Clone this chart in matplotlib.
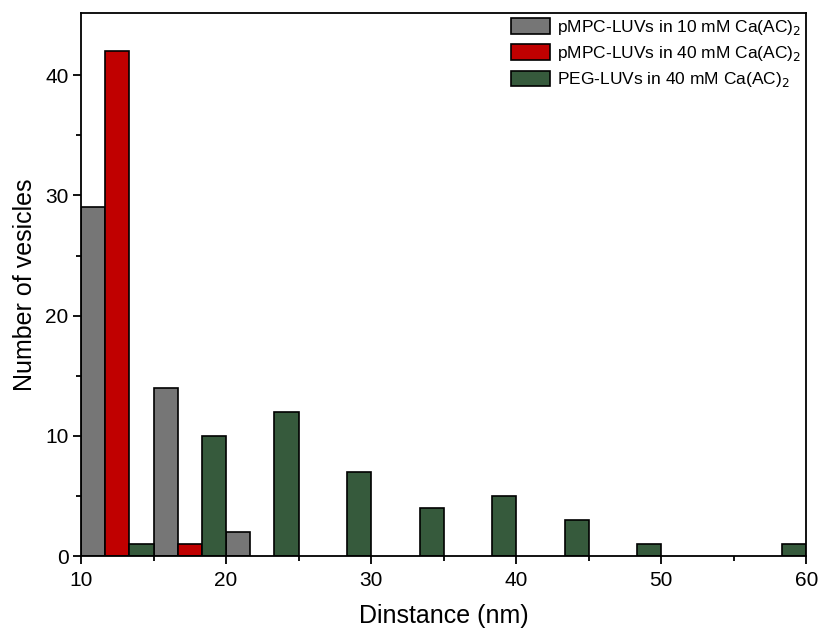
import numpy as np
import matplotlib.pyplot as plt

plt.rcParams['font.family'] = ['Liberation Sans', 'DejaVu Sans']

# histogram bins (nm), bin width 5
bin_starts = [10, 15, 20, 25, 30, 35, 40, 45, 50, 55]
pmpc_10 = [29, 14, 2, 0, 0, 0, 0, 0, 0, 0]
pmpc_40 = [42, 1, 0, 0, 0, 0, 0, 0, 0, 0]
peg_40 = [1, 10, 12, 7, 4, 5, 3, 1, 0, 1]

labels = ["pMPC-LUVs in 10 mM Ca(AC)$_2$",
          "pMPC-LUVs in 40 mM Ca(AC)$_2$",
          "PEG-LUVs in 40 mM Ca(AC)$_2$"]
colors = ["#767676", "#C00000", "#365A3C"]

fig = plt.figure(figsize=(8.27, 6.32), dpi=100)
ax = fig.add_axes([0.098, 0.12, 0.877, 0.86])

w = 5 / 3
x = np.array(bin_starts, dtype=float)
for i, (vals, c, lab) in enumerate(zip([pmpc_10, pmpc_40, peg_40], colors, labels)):
    v = np.array(vals)
    m = v > 0
    ax.bar(x[m] + i * w, v[m], width=w, align="edge", color=c,
           edgecolor="black", linewidth=1.2, label=lab)

ax.set_xlim(10, 60)
ax.set_ylim(0, 45.2)
ax.set_xticks([10, 20, 30, 40, 50, 60])
ax.set_xticks([15, 25, 35, 45, 55], minor=True)
ax.set_yticks([0, 10, 20, 30, 40])
ax.set_yticks([5, 15, 25, 35], minor=True)
ax.tick_params(which="major", direction="out", length=6, width=1.3,
               labelsize=15, pad=3)
ax.tick_params(axis="x", which="major", pad=5)
ax.tick_params(which="minor", direction="out", length=3.5, width=1.3)
for s in ax.spines.values():
    s.set_linewidth(1.3)

ax.set_xlabel("Dinstance (nm)", fontsize=18, labelpad=10)
ax.set_ylabel("Number of vesicles", fontsize=18, labelpad=6)

ax.legend(loc="upper right", bbox_to_anchor=(0.998, 0.997), fontsize=12.5,
          frameon=False, borderaxespad=0.1, borderpad=0.1, handlelength=2.25,
          handleheight=1.0, labelspacing=0.42, handletextpad=0.4)

plt.savefig("out.png", dpi=100)
plt.close()
